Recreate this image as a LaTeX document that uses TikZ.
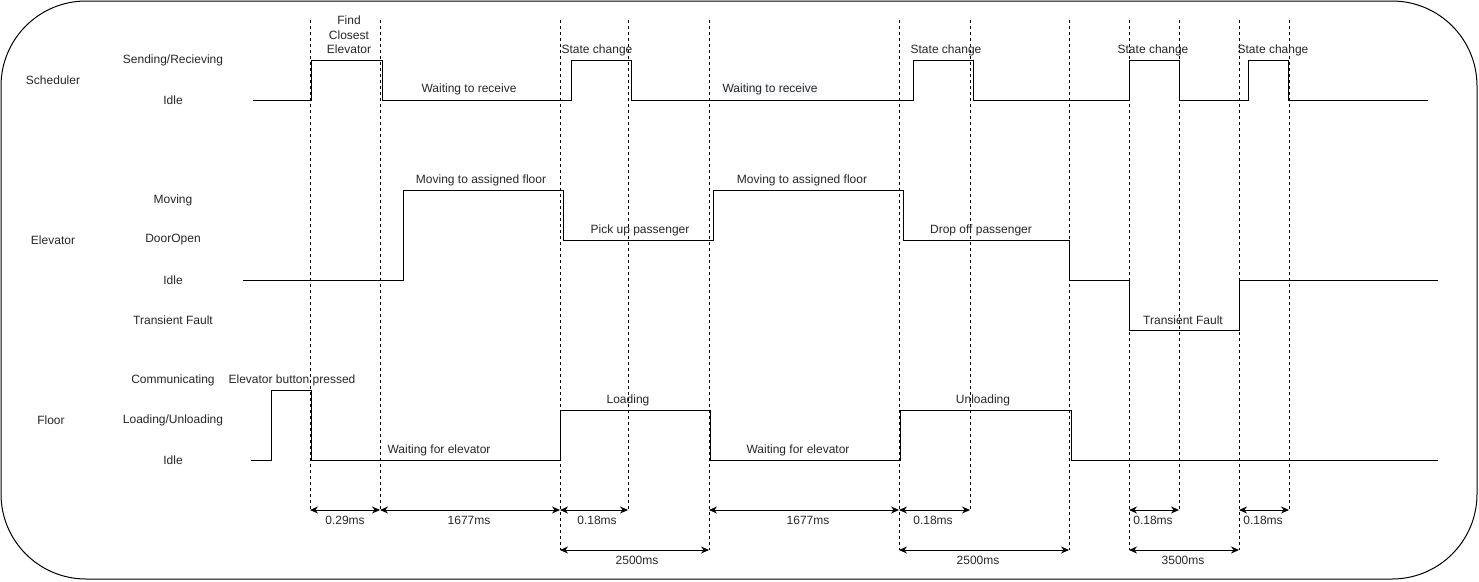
\documentclass[tikz,border=0pt]{standalone}
\usepackage{fontspec}
\setmainfont{Liberation Sans}
\usetikzlibrary{arrows.meta}
\definecolor{hilite}{RGB}{248,249,250}
\begin{document}
\begin{tikzpicture}[x=1pt,y=-1pt,
  lbl/.style={font=\fontsize{12}{14.5}\selectfont, inner sep=0pt, anchor=center, text=black!85},
  wave/.style={line width=1pt, line join=miter},
  guide/.style={dash pattern=on 3pt off 3pt, line width=0.8pt},
  dimline/.style={line width=1pt, {Stealth[length=8pt,width=7pt]}-{Stealth[length=8pt,width=7pt]}},
]
\useasboundingbox (0,0) rectangle (1479,581);
% frame
\draw[line width=1pt, rounded corners=85pt] (1,1) rectangle (1477,579);

% time marks
\foreach \n/\x in {1/310,2/380,3/560,4/628,5/709,6/899,7/970,8/1069,9/1129,10/1179,11/1239,12/1289}
  \coordinate (t\n) at (\x,20);
\coordinate (rowA) at (0,510);
\coordinate (rowB) at (0,550);

% dashed guides
\foreach \n in {1,2,4,7,10,12} \draw[guide] (t\n) -- (t\n |- rowA);
\foreach \n in {3,5,6,8,9,11} \draw[guide] (t\n) -- (t\n |- rowB);

% row titles and state names
\node[lbl] (sched) at (53,80) {Scheduler};
\node[lbl] (sSR) at (173,60) {Sending/Recieving};
\node[lbl] (sIdle) at (173,100) {Idle};
\node[lbl] (elev) at (53,240) {Elevator};
\node[lbl] (eMov) at (173,200) {Moving};
\node[lbl] (eDoor) at (173,240) {DoorOpen};
\node[lbl] (eIdle) at (173,280) {Idle};
\node[lbl] (eFault) at (173,320) {Transient Fault};
\node[lbl] (floor) at (51,420) {Floor};
\node[lbl] (fCom) at (173,380) {Communicating};
\node[lbl] (fLoad) at (173,420) {Loading/Unloading};
\node[lbl] (fIdle) at (173,460) {Idle};

% scheduler waveform
\draw[wave] (253,100) -- (311,100) -- (311,60) -- (382,60) -- (382,100) -- (571,100) -- (571,60)
  -- (631,60) -- (631,100) -- (913,100) -- (913,60) -- (973,60) -- (973,100) -- (1129,100)
  -- (1129,60) -- (1179,60) -- (1179,100) -- (1248,100) -- (1248,60) -- (1288,60) -- (1288,100)
  -- (1428,100);
\node[lbl, align=center] (find) at (349,35) {Find\\Closest\\Elevator};
\node[lbl] (wr1) at (469,89) {Waiting to receive};
\node[lbl, fill=hilite, inner sep=1pt] (wr2) at (770,89) {Waiting to receive};
\node[lbl] (sc1) at (597,50) {State change};
\node[lbl] (sc2) at (946,50) {State change};
\node[lbl] (sc3) at (1153,50) {State change};
\node[lbl] (sc4) at (1273,50) {State change};

% elevator waveform
\draw[wave] (243,280) -- (403,280) -- (403,190) -- (563,190) -- (563,240) -- (713,240) -- (713,190)
  -- (903,190) -- (903,240) -- (1069,240) -- (1069,280) -- (1129,280) -- (1129,330) -- (1239,330)
  -- (1239,280) -- (1438,280);
\node[lbl] (mv1) at (481,180) {Moving to assigned floor};
\node[lbl] (mv2) at (802,180) {Moving to assigned floor};
\node[lbl] (pick) at (640,230) {Pick up passenger};
\node[lbl] (drop) at (981,230) {Drop off passenger};
\node[lbl] (tf) at (1183,320) {Transient Fault};

% floor waveform
\draw[wave] (251,460) -- (271,460) -- (271,390) -- (311,390) -- (311,460) -- (560,460) -- (560,410)
  -- (710,410) -- (710,460) -- (900,460) -- (900,410) -- (1071,410) -- (1071,460) -- (1438,460);
\node[lbl] (btn) at (292,380) {Elevator button pressed};
\node[lbl] (wf1) at (439,450) {Waiting for elevator};
\node[lbl] (ld) at (628,400) {Loading};
\node[lbl] (wf2) at (798,450) {Waiting for elevator};
\node[lbl] (uld) at (983,400) {Unloading};

% durations
\draw[dimline] (t1 |- rowA) -- (t2 |- rowA);
\draw[dimline] (t2 |- rowA) -- (t3 |- rowA);
\draw[dimline] (t3 |- rowA) -- (t4 |- rowA);
\draw[dimline] (t5 |- rowA) -- (t6 |- rowA);
\draw[dimline] (t6 |- rowA) -- (t7 |- rowA);
\draw[dimline] (t9 |- rowA) -- (t10 |- rowA);
\draw[dimline] (t11 |- rowA) -- (t12 |- rowA);
\draw[dimline] (t3 |- rowB) -- (t5 |- rowB);
\draw[dimline] (t6 |- rowB) -- (t8 |- rowB);
\draw[dimline] (t9 |- rowB) -- (t11 |- rowB);
\node[lbl] (d1) at (345,520) {0.29ms};
\node[lbl] (d2) at (469,520) {1677ms};
\node[lbl] (d3) at (597,520) {0.18ms};
\node[lbl] (d4) at (808,520) {1677ms};
\node[lbl] (d5) at (933,520) {0.18ms};
\node[lbl] (d6) at (1153,520) {0.18ms};
\node[lbl] (d7) at (1263,520) {0.18ms};
\node[lbl] (d8) at (637,560) {2500ms};
\node[lbl] (d9) at (978,560) {2500ms};
\node[lbl] (d10) at (1183,560) {3500ms};
\end{tikzpicture}
\end{document}
